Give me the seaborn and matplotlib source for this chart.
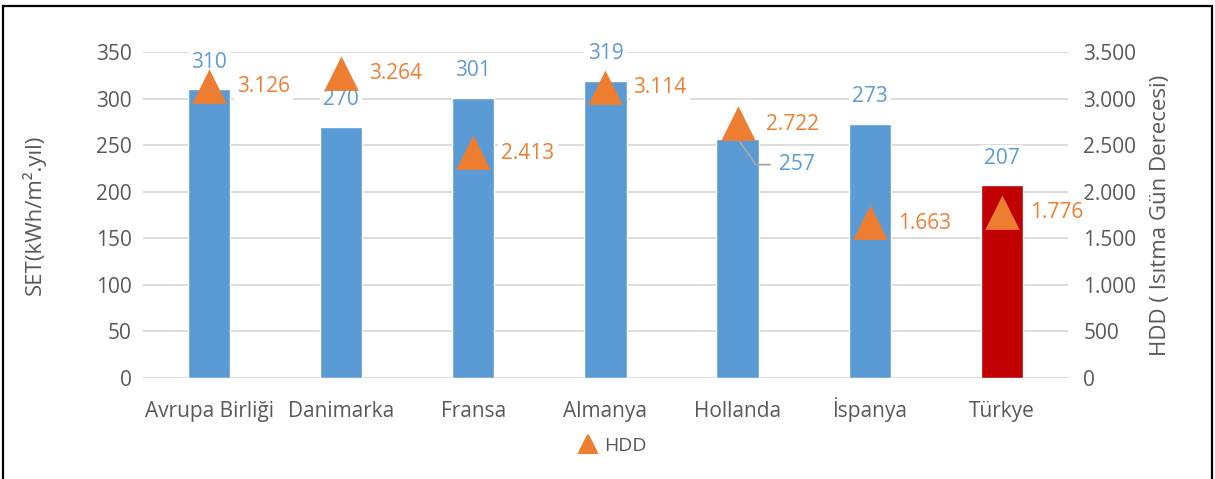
import numpy as np
import pandas as pd
import matplotlib
matplotlib.use("Agg")
import matplotlib.pyplot as plt
from matplotlib.patches import Rectangle
from matplotlib.lines import Line2D
import seaborn as sns

ulkeler = ["Avrupa Birliği", "Danimarka", "Fransa", "Almanya", "Hollanda", "İspanya", "Türkye"]
set_degerleri = [310, 270, 301, 319, 257, 273, 207]
hdd_degerleri = [3126, 3264, 2413, 3114, 2722, 1663, 1776]
sol_etiket = "SET(kWh/m².yıl)"
sag_etiket = "HDD ( Isıtma Gün Derecesi)"

mavi = "#5b9bd5"
kirmizi = "#c00000"
turuncu = "#ed7d31"
gri = "#595959"

sns.set_style("white")
plt.rcParams["font.family"] = ["Open Sans", "DejaVu Sans"]
plt.rcParams["font.size"] = 14

df = pd.DataFrame({"ulke": ulkeler, "set": set_degerleri, "hdd": hdd_degerleri})
renkler = {u: (kirmizi if u == "Türkye" else mavi) for u in ulkeler}

fig = plt.figure(figsize=(12.15, 4.79), dpi=100)
ax = fig.add_axes([0.1177, 0.2109, 0.7613, 0.6805])

sns.barplot(data=df, x="ulke", y="set", hue="ulke", palette=renkler, order=ulkeler,
            width=0.32, legend=False, saturation=1, ax=ax, zorder=2)
ax.set_ylim(0, 350)
ax.set_yticks(range(0, 351, 50))
ax.yaxis.grid(True, color="#d9d9d9", linewidth=1.3, zorder=0)
ax.set_axisbelow(True)
for s in ax.spines.values():
    s.set_visible(False)
ax.tick_params(axis="y", length=0, colors=gri, labelsize=15, pad=8)
ax.tick_params(axis="x", length=0, colors=gri, labelsize=15, pad=28)
for t in ax.get_xticklabels():
    t.set_verticalalignment("baseline")
ax.set_xlabel("")
ax.set_ylabel(sol_etiket, color=gri, fontsize=16, labelpad=36)

ax2 = ax.twinx()
sns.pointplot(data=df, x="ulke", y="hdd", order=ulkeler, color=turuncu, marker="^",
              markersize=21, linestyle="none", ax=ax2, zorder=4)
for ln in ax2.lines:
    ln.set_markeredgecolor(turuncu)
    ln.set_markeredgewidth(2)
    ln.set_markerfacecolor(turuncu)
ax2.set_ylim(0, 3500)
ax2.set_yticks(range(0, 3501, 500))
ax2.set_yticklabels([f"{v:,}".replace(",", ".") for v in range(0, 3501, 500)])
for s in ax2.spines.values():
    s.set_visible(False)
ax2.tick_params(axis="y", length=0, colors=gri, labelsize=15, pad=11)
ax2.set_ylabel(sag_etiket, color=gri, fontsize=16, labelpad=10)
ax2.set_xlabel("")
ax.set_xlim(-0.5, len(ulkeler) - 0.5)

kutu = dict(boxstyle="square,pad=0.15", fc="white", ec="none")
for i, (u, v) in enumerate(zip(ulkeler, set_degerleri)):
    if u == "Hollanda":
        ax.annotate(str(v), xy=(i, v), xytext=(59, -26), textcoords="offset pixels",
                    ha="center", va="center", color=mavi, fontsize=15, bbox=kutu,
                    arrowprops=dict(arrowstyle="-", color="#a6a6a6", lw=1.3,
                                    connectionstyle="angle,angleA=0,angleB=-55,rad=0",
                                    relpos=(0, 0.5), shrinkA=4, shrinkB=0),
                    zorder=5)
    else:
        ax.annotate(str(v), xy=(i, v), xytext=(0, 27), textcoords="offset pixels",
                    ha="center", va="center", color=mavi, fontsize=15, bbox=kutu, zorder=5)

for i, h in enumerate(hdd_degerleri):
    ax2.annotate(f"{h:,}".replace(",", "."), xy=(i, h), xytext=(28, 0), textcoords="offset pixels",
                 ha="left", va="center", color=turuncu, fontsize=15, bbox=kutu, zorder=5)

isaret = Line2D([], [], marker="^", linestyle="none", color=turuncu, markersize=13,
                markeredgewidth=1.5, label="HDD")
fig.legend(handles=[isaret], loc="center", bbox_to_anchor=(0.5, 1 - 446 / 479), frameon=False,
           fontsize=14, handletextpad=-0.2, labelcolor=gri)

fig.add_artist(Rectangle((3 / 1215, -0.02), 1209 / 1215, 1.02 - 6 / 479, transform=fig.transFigure,
                         fill=False, ec="black", lw=1.6))

fig.savefig("out.png", dpi=100)
